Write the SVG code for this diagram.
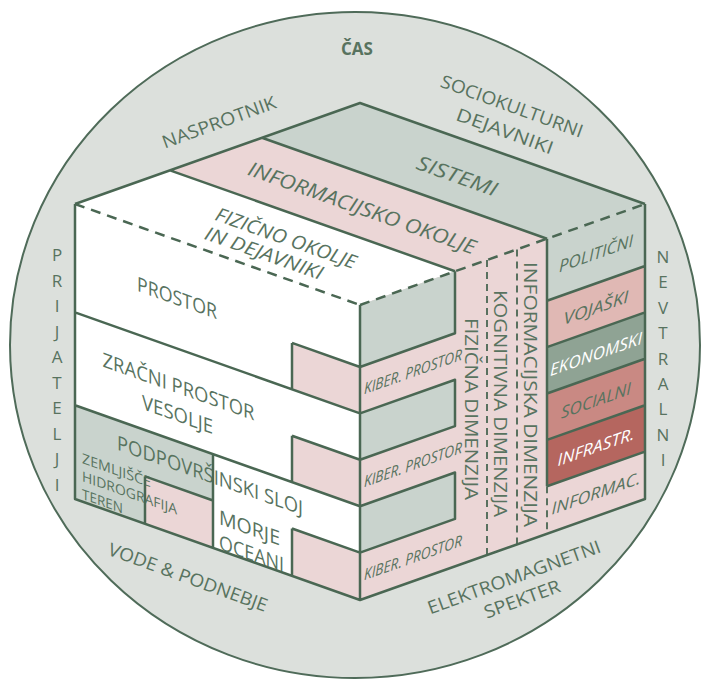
<svg xmlns="http://www.w3.org/2000/svg" width="702" height="679" viewBox="0 0 702 679">
<defs>
<style>
.t{font-family:"Open Sans","Noto Sans",sans-serif;fill:#58735f;text-anchor:middle}
.i{font-style:italic}
.w{fill:#ffffff}
.ln{fill:none;stroke:#4a6753;stroke-width:2.5;stroke-linejoin:round}
.dash{fill:none;stroke:#4a6753;stroke-width:2.5;stroke-dasharray:10 7}
.thin{fill:none;stroke:#4a6753;stroke-width:1.8;stroke-dasharray:7 5}
.gray{fill:#c9d3cd}
.pink{fill:#ebd6d6}
</style>
</defs>
<rect width="702" height="679" fill="#ffffff"/>
<g id="ring">
<ellipse cx="355" cy="345" rx="345" ry="333" fill="#dce0dc" stroke="#4f6b59" stroke-width="2"/>
<text class="t" x="357" y="55" font-size="17" font-weight="bold">ČAS</text>
<g transform="translate(219,122) rotate(-20)"><text class="t" y="6.5" font-size="18" textLength="120" lengthAdjust="spacingAndGlyphs">NASPROTNIK</text></g>
<g transform="translate(512,106) rotate(20)"><text class="t" y="6.5" font-size="18" textLength="150" lengthAdjust="spacingAndGlyphs">SOCIOKULTURNI</text></g>
<g transform="translate(505,131) rotate(20)"><text class="t" y="6.5" font-size="18" textLength="102" lengthAdjust="spacingAndGlyphs">DEJAVNIKI</text></g>
<g transform="translate(188,577) rotate(20)"><text class="t" y="6.5" font-size="18" textLength="168" lengthAdjust="spacingAndGlyphs">VODE &amp; PODNEBJE</text></g>
<g transform="translate(514,577) rotate(-20)"><text class="t" y="6.5" font-size="18" textLength="183" lengthAdjust="spacingAndGlyphs">ELEKTROMAGNETNI</text></g>
<g transform="translate(522,599) rotate(-20)"><text class="t" y="6.5" font-size="18" textLength="80" lengthAdjust="spacingAndGlyphs">SPEKTER</text></g>
<g font-size="17">
<text class="t" x="57" y="261">P</text><text class="t" x="57" y="286.5">R</text><text class="t" x="57" y="312">I</text><text class="t" x="57" y="337.5">J</text><text class="t" x="57" y="363">A</text><text class="t" x="57" y="388.5">T</text><text class="t" x="57" y="414">E</text><text class="t" x="57" y="439.5">L</text><text class="t" x="57" y="465">J</text><text class="t" x="57" y="490.5">I</text>
<text class="t" x="663" y="263">N</text><text class="t" x="663" y="288.4">E</text><text class="t" x="663" y="313.8">V</text><text class="t" x="663" y="339.2">T</text><text class="t" x="663" y="364.6">R</text><text class="t" x="663" y="390">A</text><text class="t" x="663" y="415.4">L</text><text class="t" x="663" y="440.8">N</text><text class="t" x="663" y="466.2">I</text>
</g>
</g>
<g id="top-face">
<polygon fill="#ffffff" points="75,204 170,170.33 455,271.3 360,305"/>
<polygon class="pink" points="170,170.33 262,137.7 547,238.7 455,271.3"/>
<polygon class="gray" points="262,137.7 360,103 645,204 547,238.7"/>
<g transform="translate(286,238) rotate(19.5)"><text class="t i" y="6.8" font-size="19" textLength="148" lengthAdjust="spacingAndGlyphs">FIZIČNO OKOLJE</text></g>
<g transform="translate(264,253) rotate(19.5)"><text class="t i" y="6.8" font-size="19" textLength="124" lengthAdjust="spacingAndGlyphs">IN DEJAVNIKI</text></g>
<g transform="translate(362,208) rotate(19.5)"><text class="t i" y="7" font-size="20" textLength="240" lengthAdjust="spacingAndGlyphs">INFORMACIJSKO OKOLJE</text></g>
<g transform="translate(457,176) rotate(19.5)"><text class="t i" y="7" font-size="20" textLength="84" lengthAdjust="spacingAndGlyphs">SISTEMI</text></g>
</g>
<g id="front-face">
<polygon fill="#ffffff" points="75,204 360,305 360,600 75,499"/>
<polygon class="gray" points="75,405.2 213,454.1 213,547.9 75,499"/>
<polygon class="pink" points="292,342.9 360,367 360,413.4 292,389.3"/>
<polygon class="pink" points="292,435.7 360,459.8 360,506.2 292,482.1"/>
<polygon class="pink" points="292,528.5 360,552.6 360,600 292,575.9"/>
<polygon class="pink" points="145,476.4 213,500.5 213,547.9 145,523.8"/>
<g transform="translate(177,305) skewY(19.5)"><text class="t" font-size="20" textLength="80" lengthAdjust="spacingAndGlyphs">PROSTOR</text></g>
<g transform="translate(178.5,393.5) skewY(19.5)"><text class="t" font-size="20" textLength="152" lengthAdjust="spacingAndGlyphs">ZRAČNI PROSTOR</text></g>
<g transform="translate(177.5,421.5) skewY(19.5)"><text class="t" font-size="20" textLength="71" lengthAdjust="spacingAndGlyphs">VESOLJE</text></g>
<g transform="translate(210,482.5) skewY(19.5)"><text class="t" font-size="20" textLength="186" lengthAdjust="spacingAndGlyphs">PODPOVRŠINSKI SLOJ</text></g>
<g transform="translate(82,0) skewY(19.5)" font-size="14">
<text class="t" style="text-anchor:start" y="463" textLength="69" lengthAdjust="spacingAndGlyphs">ZEMLJIŠČE</text>
<text class="t" style="text-anchor:start" y="481" textLength="95" lengthAdjust="spacingAndGlyphs">HIDROGRAFIJA</text>
<text class="t" style="text-anchor:start" y="499" textLength="41" lengthAdjust="spacingAndGlyphs">TEREN</text>
</g>
<g transform="translate(219,0) skewY(19.5)" font-size="20">
<text class="t" style="text-anchor:start" y="524" textLength="61" lengthAdjust="spacingAndGlyphs">MORJE</text>
<text class="t" style="text-anchor:start" y="549" textLength="65" lengthAdjust="spacingAndGlyphs">OCEANI</text>
</g>
</g>
<g id="right-face">
<polygon class="pink" points="360,305 547,238.7 547,533.7 360,600"/>
<polygon class="gray" points="360,305 455,271.3 455,333.3 360,367"/>
<polygon class="gray" points="360,413.4 455,379.7 455,426.1 360,459.8"/>
<polygon class="gray" points="360,506.2 455,472.5 455,518.9 360,552.6"/>
<polygon class="gray" points="547,238.7 645,204 645,266 547,300.7"/>
<polygon fill="#e0b8b4" points="547,300.7 645,266 645,312.4 547,347.1"/>
<polygon fill="#8fa394" points="547,347.1 645,312.4 645,358.8 547,393.5"/>
<polygon fill="#c98983" points="547,393.5 645,358.8 645,405.2 547,439.9"/>
<polygon fill="#b5665f" points="547,439.9 645,405.2 645,451.6 547,486.3"/>
<polygon class="pink" points="547,486.3 645,451.6 645,499 547,533.7"/>
<g transform="translate(413,377) skewY(-19.5)"><text class="t i" font-size="15.5" textLength="98" lengthAdjust="spacingAndGlyphs">KIBER. PROSTOR</text></g>
<g transform="translate(413,470) skewY(-19.5)"><text class="t i" font-size="15.5" textLength="98" lengthAdjust="spacingAndGlyphs">KIBER. PROSTOR</text></g>
<g transform="translate(413,563) skewY(-19.5)"><text class="t i" font-size="15.5" textLength="98" lengthAdjust="spacingAndGlyphs">KIBER. PROSTOR</text></g>
<g transform="translate(471,409) rotate(90)"><text class="t" y="6.5" font-size="18" textLength="182" lengthAdjust="spacingAndGlyphs">FIZIČNA DIMENZIJA</text></g>
<g transform="translate(500,403.5) rotate(90)"><text class="t" y="6.5" font-size="18" textLength="227" lengthAdjust="spacingAndGlyphs">KOGNITIVNA DIMENZIJA</text></g>
<g transform="translate(530,394.5) rotate(90)"><text class="t" y="6.5" font-size="18" textLength="265" lengthAdjust="spacingAndGlyphs">INFORMACIJSKA DIMENZIJA</text></g>
<g transform="translate(596,259.3) skewY(-19.5)"><text class="t i" font-size="16.5" textLength="74" lengthAdjust="spacingAndGlyphs">POLITIČNI</text></g>
<g transform="translate(596,313.5) skewY(-19.5)"><text class="t i" font-size="16.5" textLength="65" lengthAdjust="spacingAndGlyphs">VOJAŠKI</text></g>
<g transform="translate(596,359.9) skewY(-19.5)"><text class="t i w" font-size="16.5" textLength="92" lengthAdjust="spacingAndGlyphs">EKONOMSKI</text></g>
<g transform="translate(596,406.3) skewY(-19.5)"><text class="t i" font-size="16.5" textLength="70" lengthAdjust="spacingAndGlyphs">SOCIALNI</text></g>
<g transform="translate(596,452.7) skewY(-19.5)"><text class="t i w" font-size="16.5" textLength="77" lengthAdjust="spacingAndGlyphs">INFRASTR.</text></g>
<g transform="translate(596,499.1) skewY(-19.5)"><text class="t i" font-size="16.5" textLength="89" lengthAdjust="spacingAndGlyphs">INFORMAC.</text></g>
</g>
<g id="edges">
<path class="ln" d="M75,204 L360,103 L645,204 M170,170.33 L455,271.3 M262,137.7 L547,238.7 M75,204 V499 L360,600 L645,499 V204 M360,305 V600 M75,312.4 L360,413.4 M75,405.2 L360,506.2 M292,342.9 L360,367 M292,342.9 V389.3 M292,435.7 L360,459.8 M292,435.7 V482.1 M292,528.5 L360,552.6 M292,528.5 V575.9 M213,454.1 V547.9 M145,476.4 L213,500.5 M145,476.4 V523.8 M455,271.3 V333.3 L360,367 M360,413.4 L455,379.7 V426.1 L360,459.8 M360,506.2 L455,472.5 V518.9 L360,552.6 M547,238.7 V486.3 M547,300.7 L645,266 M547,347.1 L645,312.4 M547,393.5 L645,358.8 M547,439.9 L645,405.2 M547,486.3 L645,451.6"/>
<path class="dash" d="M75,204 L360,305 M360,305 L645,204"/>
<path class="thin" d="M487,260 V555 M517,249.4 V544.4 M547,486.3 V533.7"/>
</g>
</svg>
